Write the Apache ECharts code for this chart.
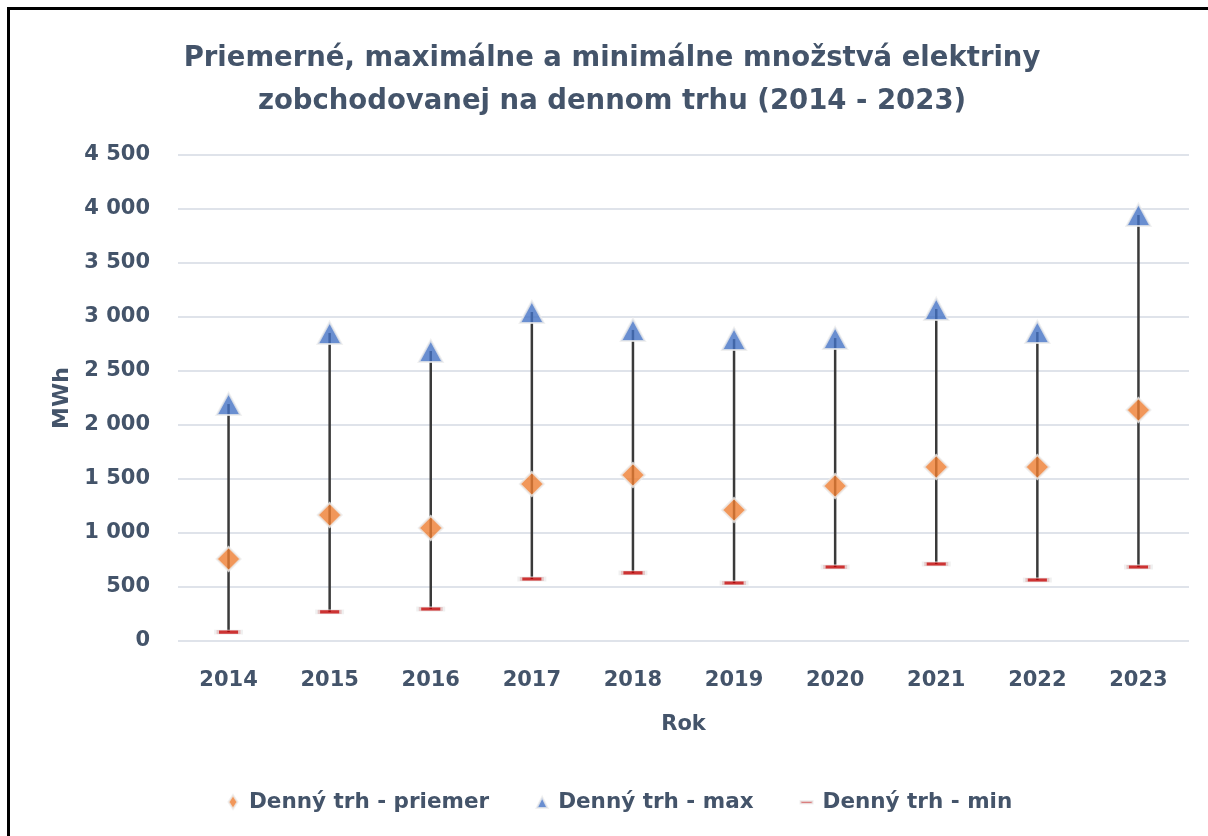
<!DOCTYPE html>
<html>
<head>
<meta charset="utf-8">
<script src="https://cdn.jsdelivr.net/npm/echarts@6/dist/echarts.min.js"></script>
<style>
	html, body { margin: 0; padding: 0; background: #fff; }
	#frame { position: absolute; left: 7px; top: 7px; width: 1260px; height: 900px; border: 3px solid #000; box-sizing: border-box; }
	#chart { position: absolute; left: 0; top: 0; width: 1208px; height: 836px; }
</style>
</head>
<body>
<div id="frame"></div>
<div id="chart"></div>
<script>
var roky = ['2014', '2015', '2016', '2017', '2018', '2019', '2020', '2021', '2022', '2023'];
var priemer = [759, 1167, 1046, 1454, 1537, 1213, 1435, 1611, 1611, 2139];
var maximum = [2194, 2852, 2685, 3046, 2880, 2796, 2805, 3074, 2861, 3945];
var minimum = [83, 269, 296, 574, 630, 537, 685, 713, 565, 685];

var farbaTextu = '#44546A';
var font = 'DejaVu Sans';

// spojnice max - min
var spojnice = [];
for (var i = 0; i < roky.length; i++) {
	spojnice.push([i, minimum[i], maximum[i]]);
}

var myChart = echarts.init(document.getElementById('chart'));
myChart.setOption({
	animation: false,
	title: {
		text: 'Priemerné, maximálne a minimálne množstvá elektriny\nzobchodovanej na dennom trhu (2014 - 2023)',
		left: 612,
		top: 37,
		textAlign: 'center',
		padding: 0,
		textStyle: {
			fontFamily: font,
			fontSize: 27.5,
			fontWeight: 'bold',
			lineHeight: 43,
			color: farbaTextu
		}
	},
	legend: {
		bottom: 23,
		left: 221,
		padding: 0,
		itemGap: 41,
		itemWidth: 22,
		itemHeight: 16,
		textStyle: { fontFamily: font, fontSize: 21.5, fontWeight: 'bold', color: farbaTextu },
		data: [
			{ name: 'Denný trh - priemer', icon: 'path://M11,1L15.5,8L11,15L6.5,8Z M0,0 M22,16' },
			{ name: 'Denný trh - max', icon: 'path://M11,3L16.5,14L5.5,14Z M0,0 M22,16' },
			{ name: 'Denný trh - min', icon: 'path://M5,7h12v2.5h-12Z M0,0 M22,16' }
		]
	},
	grid: { left: 178, top: 155, width: 1011, height: 486, containLabel: false },
	xAxis: {
		type: 'category',
		data: roky,
		name: 'Rok',
		nameLocation: 'middle',
		nameGap: 73,
		nameTextStyle: { fontFamily: font, fontSize: 21, fontWeight: 'bold', color: farbaTextu },
		axisLine: { show: false },
		axisTick: { show: false },
		axisLabel: { margin: 29, fontFamily: font, fontSize: 21, fontWeight: 'bold', color: farbaTextu }
	},
	yAxis: {
		type: 'value',
		min: 0,
		max: 4500,
		interval: 500,
		name: 'MWh',
		nameLocation: 'middle',
		nameGap: 104,
		nameTextStyle: { fontFamily: font, fontSize: 22, fontWeight: 'bold', color: farbaTextu },
		axisLine: { show: false },
		axisTick: { show: false },
		splitLine: { lineStyle: { color: '#dfe3ea', width: 2 } },
		axisLabel: {
			margin: 28,
			fontFamily: font,
			fontSize: 21,
			fontWeight: 'bold',
			color: farbaTextu,
			formatter: function(v) { return String(v).replace(/\B(?=(\d{3})+(?!\d))/g, ' '); }
		}
	},
	series: [
		{
			type: 'custom',
			name: 'spojnice',
			z: 1,
			data: spojnice,
			encode: { x: 0, y: [1, 2] },
			renderItem: function(params, api) {
				var dole = api.coord([api.value(0), api.value(1)]);
				var hore = api.coord([api.value(0), api.value(2)]);
				return {
					type: 'line',
					shape: { x1: dole[0], y1: dole[1], x2: hore[0], y2: hore[1] },
					style: { stroke: '#3a3a3a', lineWidth: 2.5 }
				};
			}
		},
		{
			type: 'scatter',
			name: 'Denný trh - priemer',
			z: 3,
			data: priemer,
			symbol: 'diamond',
			symbolSize: [24, 24],
			itemStyle: { color: '#ED7D31', borderColor: '#ececec', borderWidth: 2 }
		},
		{
			type: 'scatter',
			name: 'Denný trh - max',
			z: 3,
			data: maximum,
			symbol: 'triangle',
			symbolSize: [24, 22],
			itemStyle: { color: '#4472C4', borderColor: '#ececec', borderWidth: 2 }
		},
		{
			type: 'scatter',
			name: 'Denný trh - min',
			z: 3,
			data: minimum,
			symbol: 'rect',
			symbolSize: [24, 4],
			itemStyle: { color: '#C00000', borderColor: '#ececec', borderWidth: 2 }
		}
	]
});
</script>
</body>
</html>
